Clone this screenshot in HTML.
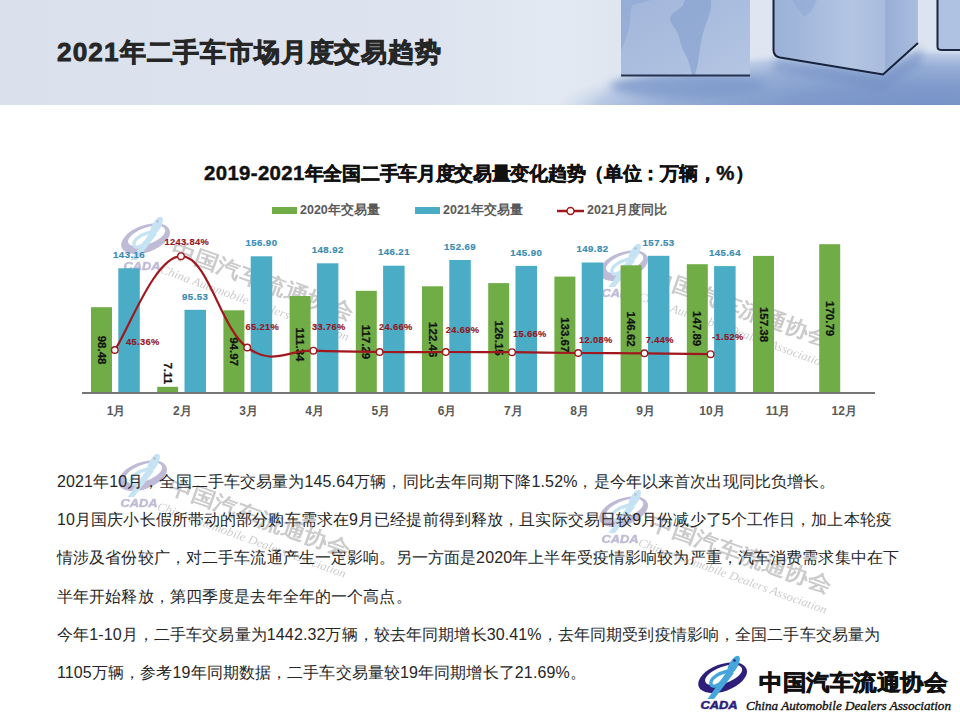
<!DOCTYPE html>
<html><head><meta charset="utf-8">
<style>
*{margin:0;padding:0;box-sizing:border-box}
html,body{width:960px;height:720px;overflow:hidden;background:#fff;font-family:"Liberation Sans",sans-serif}
#ttl{position:absolute;left:57px;top:34.5px;font-size:26.2px;letter-spacing:0.85px;font-weight:bold;-webkit-text-stroke:0.8px #262626;color:#262626;white-space:nowrap}
#ctitle{position:absolute;left:204px;top:161px;font-size:19px;letter-spacing:-0.29px;font-weight:bold;-webkit-text-stroke:0.45px #111;color:#111;white-space:nowrap}
.dg{font-size:20.4px;letter-spacing:0.35px}
.leg{position:absolute;top:202px;font-size:12.5px;font-weight:bold;color:#595959;white-space:nowrap}
#chart text{font-family:"Liberation Sans",sans-serif;font-weight:bold}
.bl{font-size:9.6px;letter-spacing:0.45px;fill:#3a8cb2;stroke:#3a8cb2;stroke-width:0.2px;text-anchor:middle}
.gl{font-size:11.5px;fill:#111;stroke:#111;stroke-width:0.25px;text-anchor:middle;dominant-baseline:central}
.pl{font-size:9.3px;letter-spacing:0.35px;fill:#93161e;stroke:#93161e;stroke-width:0.15px}
.ml{font-size:12px;fill:#595959;text-anchor:middle}
.p{position:absolute;left:57px;font-size:16px;letter-spacing:0.12px;color:#262626;white-space:nowrap}
</style></head><body>
<svg id="hdr" width="960" height="105" style="position:absolute;left:0;top:0">
<defs>
<linearGradient id="bgH" x1="0" y1="0" x2="1" y2="0">
<stop offset="0" stop-color="#dae1ed"/><stop offset="0.45" stop-color="#dde4ef"/><stop offset="0.58" stop-color="#e3e9f2"/><stop offset="0.65" stop-color="#dfe6f0"/><stop offset="1" stop-color="#dce4f0"/>
</linearGradient>
<radialGradient id="floor" cx="930" cy="112" r="380" gradientUnits="userSpaceOnUse" gradientTransform="translate(930,112) scale(1,0.17) translate(-930,-112)">
<stop offset="0" stop-color="#7590c5"/><stop offset="0.4" stop-color="#7f9acb"/><stop offset="0.7" stop-color="#97aed6"/><stop offset="0.88" stop-color="#b9c9e5"/><stop offset="1" stop-color="#d3ddec" stop-opacity="0"/>
</radialGradient>
<linearGradient id="c1" x1="0" y1="0" x2="1" y2="1">
<stop offset="0" stop-color="#a2b6da"/><stop offset="1" stop-color="#b4c5e3"/>
</linearGradient>
<linearGradient id="c2" x1="0" y1="0" x2="1" y2="0">
<stop offset="0" stop-color="#9ab0d7"/><stop offset="0.7" stop-color="#b3c5e3"/><stop offset="1" stop-color="#a9bcde"/>
</linearGradient>
<linearGradient id="c2s" x1="0" y1="0" x2="1" y2="0">
<stop offset="0" stop-color="#97aed6"/><stop offset="1" stop-color="#aabdde"/>
</linearGradient>
<filter id="blur3" x="-50%" y="-50%" width="200%" height="200%"><feGaussianBlur stdDeviation="4"/></filter>
<filter id="blur1"><feGaussianBlur stdDeviation="0.6"/></filter>
</defs>
<rect width="960" height="105" fill="url(#bgH)"/>
<rect x="400" y="0" width="560" height="105" fill="url(#floor)"/>
<ellipse cx="688" cy="86" rx="78" ry="12" fill="#7c97c9" opacity="0.75" filter="url(#blur3)"/>
<path d="M776,58 L882,78 L922,46 L922,64 L882,90 L772,70Z" fill="#6f8bc2" opacity="0.55" filter="url(#blur3)"/>
<rect x="621" y="0" width="129" height="76" fill="url(#c1)"/>
<path d="M685,0 L711,0 C712,8 709,16 706,24 C703,32 701,40 700,48 C699,56 698,64 695,75 L692,75 C690,66 688,58 684,52 C681,46 680,40 678,34 C676,28 670,24 670,18 C671,12 680,10 683,5Z" fill="#88a2d0" opacity="0.7"/>
<path d="M621,0 L650,0 C645,3 636,2 632,6 C629,12 631,20 629,28 C627,36 624,44 621,50Z" fill="#8ea7d2" opacity="0.6"/>
<rect x="621" y="74.5" width="129" height="2" fill="#25324f" filter="url(#blur1)"/>
<path d="M774,0 L885,0 L885,74 L779,57 C775,56 773,53 773,50Z" fill="url(#c2)"/>
<path d="M885,0 L918,0 L918,42 L885,74Z" fill="url(#c2s)"/>
<path d="M773.5,0 L773.5,50 C773.5,54 775,56.5 780,57.5 L883,74.5 L918,43" fill="none" stroke="#17223b" stroke-width="2" filter="url(#blur1)"/>
<path d="M792,0 C796,7 800,12 804,17 C811,13 814,6 817,0Z" fill="#8fa9d3" opacity="0.6"/>
<rect x="937" y="0" width="23" height="50" fill="#b0c2e1"/>
<path d="M937.5,0 L937.5,47 C937.5,49 939,50 942,50 L960,50" fill="none" stroke="#1a2640" stroke-width="2" filter="url(#blur1)"/>
</svg>
<svg width="0" height="0" style="position:absolute">
<defs>
<g id="icon">
<path fill="#2d1e7b" fill-rule="evenodd" transform="translate(0.6,-1.3) rotate(-20)" d="M-25.5,0 A25.5,13.5 0 1 0 25.5,0 A25.5,13.5 0 1 0 -25.5,0Z M-17.6,-2.2 A19.5,8.3 0 1 1 21.4,-2.2 A19.5,8.3 0 1 1 -17.6,-2.2Z"/>
<ellipse cx="0" cy="0" rx="4.3" ry="10.5" transform="translate(11.5,-14) rotate(30)" fill="#46a6dc"/>
<path d="M6,-9 L12,-6 L-8,20 L-14.5,20Z" fill="#46a6dc"/>
<path d="M8,-8 C-2,-7 -12,-1 -11,5 C-10,9 -4,7 1,2" fill="none" stroke="#46a6dc" stroke-width="3.4"/>
<circle cx="12.5" cy="-18.5" r="1.2" fill="#2d1e7b"/>
<text x="-3" y="29.8" font-family="'Liberation Sans',sans-serif" font-weight="bold" font-style="italic" font-size="10" fill="#2d1e7b" stroke="#2d1e7b" stroke-width="0.5" text-anchor="middle" textLength="37" lengthAdjust="spacingAndGlyphs">CADA</text>
</g>
</defs></svg>
<svg width="960" height="720" style="position:absolute;left:0;top:0;opacity:0.3">
<defs><g id="wm">
<use href="#icon" x="25" y="22"/>
<g transform="translate(50,37) rotate(20)">
<text x="0" y="0" font-family="'Liberation Serif',serif" font-weight="bold" font-size="21" fill="#555" textLength="192" lengthAdjust="spacingAndGlyphs">中国汽车流通协会</text>
<text x="-4" y="20" font-family="'Liberation Serif',serif" font-style="italic" font-size="12" fill="#555" textLength="200" lengthAdjust="spacingAndGlyphs">China Automobile Dealers Association</text>
</g></g></g></defs>
<use href="#wm" x="120" y="218"/>
<use href="#wm" x="598" y="245"/>
<use href="#wm" x="117" y="455"/>
<use href="#wm" x="598" y="491"/>
</svg>
<div id="ttl"><span style="letter-spacing:1.1px">2021</span>年二手车市场月度交易趋势</div>
<div id="ctitle"><span class="dg">2019-2021</span>年全国二手车月度交易量变化趋势（单位：万辆，<span class="dg">%</span>）</div>
<div class="leg" style="left:272px"><span style="display:inline-block;width:25px;height:7px;background:#70ad47;vertical-align:middle;margin-right:3px"></span>2020年交易量</div>
<div class="leg" style="left:415px"><span style="display:inline-block;width:25px;height:7px;background:#4bacc6;vertical-align:middle;margin-right:3px"></span>2021年交易量</div>
<div class="leg" style="left:557px"><svg width="27" height="10" style="vertical-align:middle;margin-right:3px"><line x1="0" y1="5" x2="27" y2="5" stroke="#a0181d" stroke-width="2.5"/><circle cx="13.5" cy="5" r="3.5" fill="#fff" stroke="#a0181d" stroke-width="1.5"/></svg>2021月度同比</div>
<svg id="chart" width="960" height="720" style="position:absolute;left:0;top:0">
<rect x="91.0" y="307.2" width="21" height="85.8" fill="#70ad47"/>
<rect x="157.2" y="386.8" width="21" height="6.2" fill="#70ad47"/>
<rect x="223.4" y="310.3" width="21" height="82.7" fill="#70ad47"/>
<rect x="289.6" y="296.0" width="21" height="97.0" fill="#70ad47"/>
<rect x="355.8" y="290.8" width="21" height="102.2" fill="#70ad47"/>
<rect x="422.0" y="286.3" width="21" height="106.7" fill="#70ad47"/>
<rect x="488.2" y="283.1" width="21" height="109.9" fill="#70ad47"/>
<rect x="554.4" y="276.6" width="21" height="116.4" fill="#70ad47"/>
<rect x="620.6" y="265.3" width="21" height="127.7" fill="#70ad47"/>
<rect x="686.8" y="264.2" width="21" height="128.8" fill="#70ad47"/>
<rect x="753.0" y="255.9" width="21" height="137.1" fill="#70ad47"/>
<rect x="819.2" y="244.2" width="21" height="148.8" fill="#70ad47"/>
<rect x="118.3" y="268.3" width="21.5" height="124.7" fill="#4bacc6"/>
<rect x="184.5" y="309.8" width="21.5" height="83.2" fill="#4bacc6"/>
<rect x="250.7" y="256.3" width="21.5" height="136.7" fill="#4bacc6"/>
<rect x="316.9" y="263.3" width="21.5" height="129.7" fill="#4bacc6"/>
<rect x="383.1" y="265.7" width="21.5" height="127.3" fill="#4bacc6"/>
<rect x="449.3" y="260.0" width="21.5" height="133.0" fill="#4bacc6"/>
<rect x="515.5" y="265.9" width="21.5" height="127.1" fill="#4bacc6"/>
<rect x="581.7" y="262.5" width="21.5" height="130.5" fill="#4bacc6"/>
<rect x="647.9" y="255.8" width="21.5" height="137.2" fill="#4bacc6"/>
<rect x="714.1" y="266.1" width="21.5" height="126.9" fill="#4bacc6"/>
<rect x="82" y="392" width="793" height="2" fill="#767676"/>
<text x="129.1" y="258.0" class="bl">143.16</text>
<text x="195.2" y="299.5" class="bl">95.53</text>
<text x="261.4" y="246.0" class="bl">156.90</text>
<text x="327.7" y="253.0" class="bl">148.92</text>
<text x="393.9" y="255.4" class="bl">146.21</text>
<text x="460.1" y="249.7" class="bl">152.69</text>
<text x="526.2" y="255.6" class="bl">145.90</text>
<text x="592.5" y="252.2" class="bl">149.82</text>
<text x="658.6" y="245.5" class="bl">157.53</text>
<text x="724.9" y="255.8" class="bl">145.64</text>
<text transform="translate(101.5,350.1) rotate(90)" class="gl">98.48</text>
<text transform="translate(167.7,373.3) rotate(90)" class="gl">7.11</text>
<text transform="translate(233.9,351.6) rotate(90)" class="gl">94.97</text>
<text transform="translate(300.1,344.5) rotate(90)" class="gl">111.34</text>
<text transform="translate(366.3,341.9) rotate(90)" class="gl">117.29</text>
<text transform="translate(432.5,339.7) rotate(90)" class="gl">122.46</text>
<text transform="translate(498.7,338.1) rotate(90)" class="gl">126.15</text>
<text transform="translate(564.9,334.8) rotate(90)" class="gl">133.67</text>
<text transform="translate(631.1,329.1) rotate(90)" class="gl">146.62</text>
<text transform="translate(697.3,328.6) rotate(90)" class="gl">147.89</text>
<text transform="translate(763.5,324.5) rotate(90)" class="gl">157.38</text>
<text transform="translate(829.7,318.6) rotate(90)" class="gl">170.79</text>
<text x="126" y="344.7" class="pl">45.36%</text>
<text x="164.5" y="245.2" class="pl">1243.84%</text>
<text x="245.5" y="329.7" class="pl">65.21%</text>
<text x="312" y="329.7" class="pl">33.76%</text>
<text x="379" y="330.2" class="pl">24.66%</text>
<text x="445.7" y="332.5" class="pl">24.69%</text>
<text x="513" y="336.9" class="pl">15.66%</text>
<text x="579" y="342.5" class="pl">12.08%</text>
<text x="645.7" y="342.5" class="pl">7.44%</text>
<text x="712" y="340.2" class="pl">-1.52%</text>
<text x="116.1" y="414.5" class="ml">1月</text>
<text x="182.3" y="414.5" class="ml">2月</text>
<text x="248.5" y="414.5" class="ml">3月</text>
<text x="314.7" y="414.5" class="ml">4月</text>
<text x="380.9" y="414.5" class="ml">5月</text>
<text x="447.1" y="414.5" class="ml">6月</text>
<text x="513.3" y="414.5" class="ml">7月</text>
<text x="579.5" y="414.5" class="ml">8月</text>
<text x="645.7" y="414.5" class="ml">9月</text>
<text x="711.9" y="414.5" class="ml">10月</text>
<text x="778.1" y="414.5" class="ml">11月</text>
<text x="844.3" y="414.5" class="ml">12月</text>
<path d="M114.8,350 C128.0,331.2 154.5,256.7 181.0,256.2 C207.5,255.7 220.7,328.6 247.2,347.5 C273.7,366.4 286.9,349.8 313.4,350.7 C339.9,351.6 353.1,351.7 379.6,352 C406.1,352.3 419.3,352.0 445.8,352 C472.3,352.0 485.5,352.0 512.0,352.2 C538.5,352.4 551.7,352.8 578.2,353 C604.7,353.2 617.9,353.1 644.4,353.3 C670.9,353.5 697.4,354.0 710.6,354.2" fill="none" stroke="#a0181d" stroke-width="2.2"/>
<circle cx="114.8" cy="350" r="3.3" fill="#fff" stroke="#a0181d" stroke-width="1.4"/>
<circle cx="181.0" cy="256.2" r="3.3" fill="#fff" stroke="#a0181d" stroke-width="1.4"/>
<circle cx="247.2" cy="347.5" r="3.3" fill="#fff" stroke="#a0181d" stroke-width="1.4"/>
<circle cx="313.4" cy="350.7" r="3.3" fill="#fff" stroke="#a0181d" stroke-width="1.4"/>
<circle cx="379.6" cy="352" r="3.3" fill="#fff" stroke="#a0181d" stroke-width="1.4"/>
<circle cx="445.8" cy="352" r="3.3" fill="#fff" stroke="#a0181d" stroke-width="1.4"/>
<circle cx="512.0" cy="352.2" r="3.3" fill="#fff" stroke="#a0181d" stroke-width="1.4"/>
<circle cx="578.2" cy="353" r="3.3" fill="#fff" stroke="#a0181d" stroke-width="1.4"/>
<circle cx="644.4" cy="353.3" r="3.3" fill="#fff" stroke="#a0181d" stroke-width="1.4"/>
<circle cx="710.6" cy="354.2" r="3.3" fill="#fff" stroke="#a0181d" stroke-width="1.4"/>
</svg>
<div class="p" style="top:472px">2021年10月，全国二手车交易量为145.64万辆，同比去年同期下降1.52%，是今年以来首次出现同比负增长。</div>
<div class="p" style="top:510.2px">10月国庆小长假所带动的部分购车需求在9月已经提前得到释放，且实际交易日较9月份减少了5个工作日，加上本轮疫</div>
<div class="p" style="top:548.4px">情涉及省份较广，对二手车流通产生一定影响。另一方面是2020年上半年受疫情影响较为严重，汽车消费需求集中在下</div>
<div class="p" style="top:586.6px">半年开始释放，第四季度是去年全年的一个高点。</div>
<div class="p" style="top:624.8px">今年1-10月，二手车交易量为1442.32万辆，较去年同期增长30.41%，去年同期受到疫情影响，全国二手车交易量为</div>
<div class="p" style="top:663px">1105万辆，参考19年同期数据，二手车交易量较19年同期增长了21.69%。</div>
<svg width="960" height="720" style="position:absolute;left:0;top:0">
<use href="#icon" x="722" y="679"/>
<text x="759" y="690" font-family="'Liberation Serif',serif" font-weight="bold" font-size="22" fill="#111" stroke="#111" stroke-width="0.7" textLength="188" lengthAdjust="spacingAndGlyphs">中国汽车流通协会</text>
<text x="746" y="710" font-family="'Liberation Serif',serif" font-style="italic" font-size="12.5" fill="#111" stroke="#111" stroke-width="0.35" textLength="205" lengthAdjust="spacingAndGlyphs">China Automobile Dealers Association</text>
</svg>
</body></html>
